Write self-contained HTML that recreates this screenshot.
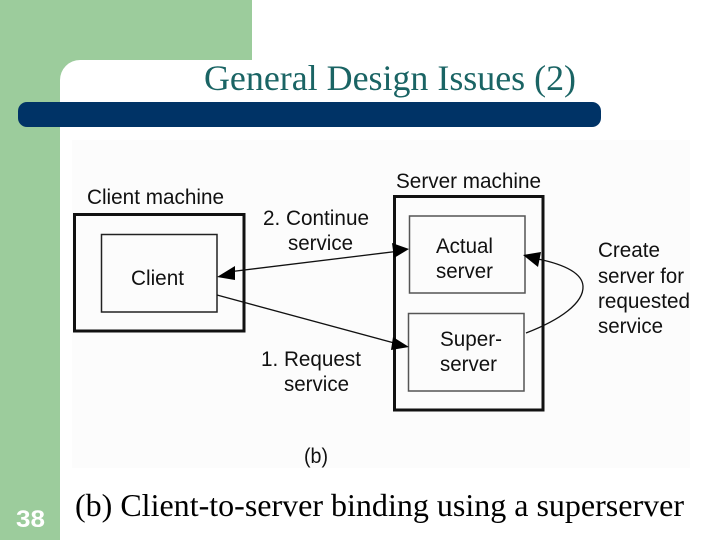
<!DOCTYPE html>
<html><head><meta charset="utf-8"><style>
html,body{margin:0;padding:0;background:#fff}
svg{display:block}
.s{font-family:"Liberation Sans",sans-serif;font-size:21px;fill:#111}
.t{font-family:"Liberation Serif",serif}
</style></head><body>
<svg width="720" height="540" viewBox="0 0 720 540" xmlns="http://www.w3.org/2000/svg">
<rect width="720" height="540" fill="#fff"/>
<rect x="0" y="0" width="252" height="60" fill="#9ccc9c"/>
<rect x="0" y="0" width="60" height="540" fill="#9ccc9c"/>
<path d="M60 60 H80 A20 20 0 0 0 60 80 Z" fill="#9ccc9c"/>
<rect x="18" y="102" width="583" height="25" rx="9" fill="#003366"/>
<rect x="72" y="140" width="618" height="328" fill="#fcfcfc"/>
<text x="390" y="90" text-anchor="middle" class="t" font-size="36" fill="#1a6464" textLength="372" lengthAdjust="spacingAndGlyphs">General Design Issues (2)</text>

<rect x="74.500" y="214.500" width="169.500" height="116.500" fill="none" stroke="#111" stroke-width="3"/>
<rect x="101.500" y="234.500" width="115.500" height="77.500" fill="none" stroke="#222" stroke-width="1.500"/>
<rect x="394.500" y="196.500" width="148.500" height="213.500" fill="none" stroke="#111" stroke-width="3"/>
<rect x="409.500" y="216" width="115.500" height="77" fill="none" stroke="#555" stroke-width="1.500"/>
<rect x="408.500" y="313.500" width="115.500" height="77.500" fill="none" stroke="#555" stroke-width="1.500"/>

<line x1="228" y1="272" x2="400" y2="251" stroke="#111" stroke-width="1.300"/>
<polygon points="217,277 235,266 235,280" fill="#000"/>
<polygon points="409,249 392,243 394,258" fill="#000"/>
<line x1="217" y1="295" x2="398" y2="344" stroke="#111" stroke-width="1.300"/>
<polygon points="409,347 393,337 391,350" fill="#000"/>
<path d="M526 333 C560 320 584 303 583 286 C582 272 562 264 538 259" fill="none" stroke="#111" stroke-width="1.300"/>
<polygon points="523,255 541,252 538,267" fill="#000"/>

<g class="s">
<text x="87" y="204" textLength="137" lengthAdjust="spacingAndGlyphs">Client machine</text>
<text x="396" y="188" textLength="145" lengthAdjust="spacingAndGlyphs">Server machine</text>
<text x="263" y="225" textLength="106" lengthAdjust="spacingAndGlyphs">2. Continue</text>
<text x="288" y="250" textLength="65" lengthAdjust="spacingAndGlyphs">service</text>
<text x="131" y="285" textLength="53" lengthAdjust="spacingAndGlyphs">Client</text>
<text x="436" y="253" textLength="57" lengthAdjust="spacingAndGlyphs">Actual</text>
<text x="436" y="278" textLength="57" lengthAdjust="spacingAndGlyphs">server</text>
<text x="440" y="346" textLength="62" lengthAdjust="spacingAndGlyphs">Super-</text>
<text x="440" y="371" textLength="57" lengthAdjust="spacingAndGlyphs">server</text>
<text x="598" y="257" textLength="62" lengthAdjust="spacingAndGlyphs">Create</text>
<text x="598" y="283" textLength="86" lengthAdjust="spacingAndGlyphs">server for</text>
<text x="598" y="308" textLength="92" lengthAdjust="spacingAndGlyphs">requested</text>
<text x="598" y="333" textLength="65" lengthAdjust="spacingAndGlyphs">service</text>
<text x="261" y="366" textLength="100" lengthAdjust="spacingAndGlyphs">1. Request</text>
<text x="284" y="391" textLength="65" lengthAdjust="spacingAndGlyphs">service</text>
<text x="304" y="463" textLength="24" lengthAdjust="spacingAndGlyphs">(b)</text>
</g>

<text x="75" y="516" class="t" font-size="32" fill="#000" textLength="609" lengthAdjust="spacingAndGlyphs">(b) Client-to-server binding using a superserver</text>
<text x="16" y="527" font-family="'Liberation Sans',sans-serif" font-weight="700" font-size="24" fill="#fff" textLength="29" lengthAdjust="spacingAndGlyphs">38</text>
</svg>
</body></html>
